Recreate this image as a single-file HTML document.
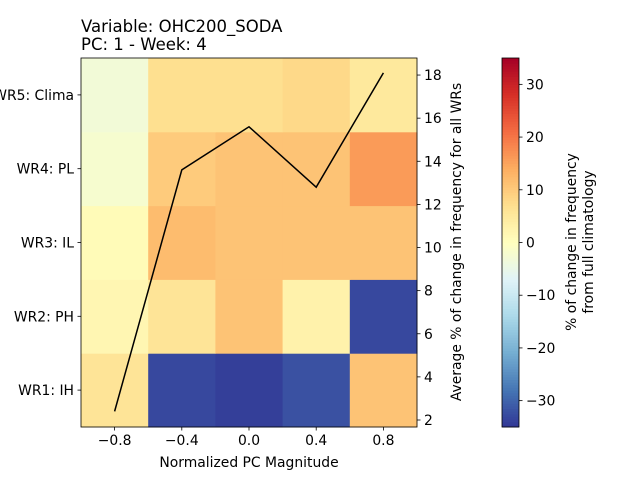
<!DOCTYPE html>
<html><head><meta charset="utf-8"><style>
body{margin:0;background:#fff;font-family:"Liberation Sans","DejaVu Sans",sans-serif;}
svg text{font-family:"DejaVu Sans","Liberation Sans",sans-serif;fill:#000;}
</style></head><body>
<svg id="c" width="640" height="480" xmlns="http://www.w3.org/2000/svg"></svg>
<script>
const rowLabels=["WR1: IH","WR2: PH","WR3: IL","WR4: PL","WR5: Clima"];
const colCenters=[-0.8,-0.4,0.0,0.4,0.8];
const cellValues=[
 [6,-33,-34,-32,11],
 [2,6,11,3,-33],
 [1,12,11,11,11],
 [-2,10,11,11,16],
 [-3,7,7,8,5]
];
const lineValues=[2.4,13.6,15.6,12.8,18.1];
const xTicks=[-0.8,-0.4,0.0,0.4,0.8];
const yRightTicks=[2,4,6,8,10,12,14,16,18];
const cbTicks=[-30,-20,-10,0,10,20,30];

const NS="http://www.w3.org/2000/svg";
const svg=document.getElementById('c');
function mk(t,a,txt){const e=document.createElementNS(NS,t);for(const k in a)e.setAttribute(k,a[k]);if(txt!==undefined)e.textContent=txt;svg.appendChild(e);return e;}
const L=81,R=417,T=58,B=427;
const FS=13.9;
const xs=v=>L+(v+1)/2*(R-L);
const rowH=(B-T)/5;
const yR=v=>420-(v-2)*21.56;
const cbL=502,cbR=519,cbMin=-35,cbMax=35;
const cbY=v=>B-(v-cbMin)/(cbMax-cbMin)*(B-T);
const stops=["#313695","#4575b4","#74add1","#abd9e9","#e0f3f8","#ffffbf","#fee090","#fdae61","#f46d43","#d73027","#a50026"];
function hex(h){return [1,3,5].map(i=>parseInt(h.substr(i,2),16));}
function cmap(v){let t=(v-cbMin)/(cbMax-cbMin);t=Math.max(0,Math.min(1,t));const p=t*10,i=Math.min(9,Math.floor(p)),f=p-i;const a=hex(stops[i]),b=hex(stops[i+1]);return `rgb(${a.map((x,k)=>Math.round(x+(b[k]-x)*f)).join(',')})`;}

cellValues.forEach((row,r)=>row.forEach((v,c)=>{
  const e=mk('rect',{x:xs(colCenters[c]-0.2),y:B-(r+1)*rowH,width:xs(colCenters[c]+0.2)-xs(colCenters[c]-0.2)+0.5,height:rowH+0.5,fill:cmap(v)});
  
  
}));
const pts=lineValues.map((v,i)=>xs(colCenters[i])+','+yR(v)).join(' ');
const ln=mk('polyline',{points:pts,fill:'none',stroke:'#000','stroke-width':1.5});


const fr=mk('rect',{x:L,y:T,width:R-L,height:B-T,fill:'none',stroke:'#000','stroke-width':0.8});


xTicks.forEach(v=>{const x=xs(v);mk('line',{x1:x,y1:B,x2:x,y2:B+3.5,stroke:'#000','stroke-width':0.8});
 const t=mk('text',{x:x,y:B+18,'font-size':FS,'text-anchor':'middle'},(v<0?'\u2212':'')+Math.abs(v).toFixed(1));
 });
rowLabels.forEach((s,r)=>{const y=B-(r+0.5)*rowH;mk('line',{x1:L,y1:y,x2:L-3.5,y2:y,stroke:'#000','stroke-width':0.8});
 const t=mk('text',{x:L-7,y:y+5,'font-size':FS,'text-anchor':'end'},s);
 });
yRightTicks.forEach(v=>{const y=yR(v);mk('line',{x1:R,y1:y,x2:R+3.5,y2:y,stroke:'#000','stroke-width':0.8});
 const t=mk('text',{x:R+7,y:y+5,'font-size':FS},String(v));
 });
const N=140;for(let i=0;i<N;i++){const v0=cbMin+(cbMax-cbMin)*i/N,v1=cbMin+(cbMax-cbMin)*(i+1)/N;
 mk('rect',{x:cbL,y:cbY(v1),width:cbR-cbL,height:cbY(v0)-cbY(v1)+0.5,fill:cmap((v0+v1)/2)});}
const cbf=mk('rect',{x:cbL,y:T,width:cbR-cbL,height:B-T,fill:'none',stroke:'#000','stroke-width':0.8});

cbTicks.forEach(v=>{const y=cbY(v);mk('line',{x1:cbR,y1:y,x2:cbR+3.5,y2:y,stroke:'#000','stroke-width':0.8});
 const t=mk('text',{x:cbR+7,y:y+5,'font-size':FS},(v<0?'\u2212':'')+Math.abs(v));
 });
</script>
<svg style="position:absolute;left:0;top:0" width="640" height="480" xmlns="http://www.w3.org/2000/svg">
<text x="81" y="32" font-size="16.5">Variable: OHC200_SODA</text>
<text x="81" y="50" font-size="16.5">PC: 1 - Week: 4</text>
<text x="249" y="467" font-size="13.9" text-anchor="middle">Normalized PC Magnitude</text>
<text transform="translate(461,242) rotate(-90)" font-size="13.9" text-anchor="middle">Average % of change in frequency for all WRs</text>
<text transform="translate(576,242) rotate(-90)" font-size="13.9" text-anchor="middle">% of change in frequency</text>
<text transform="translate(593,242) rotate(-90)" font-size="13.9" text-anchor="middle">from full climatology</text>
</svg>
</body></html>
